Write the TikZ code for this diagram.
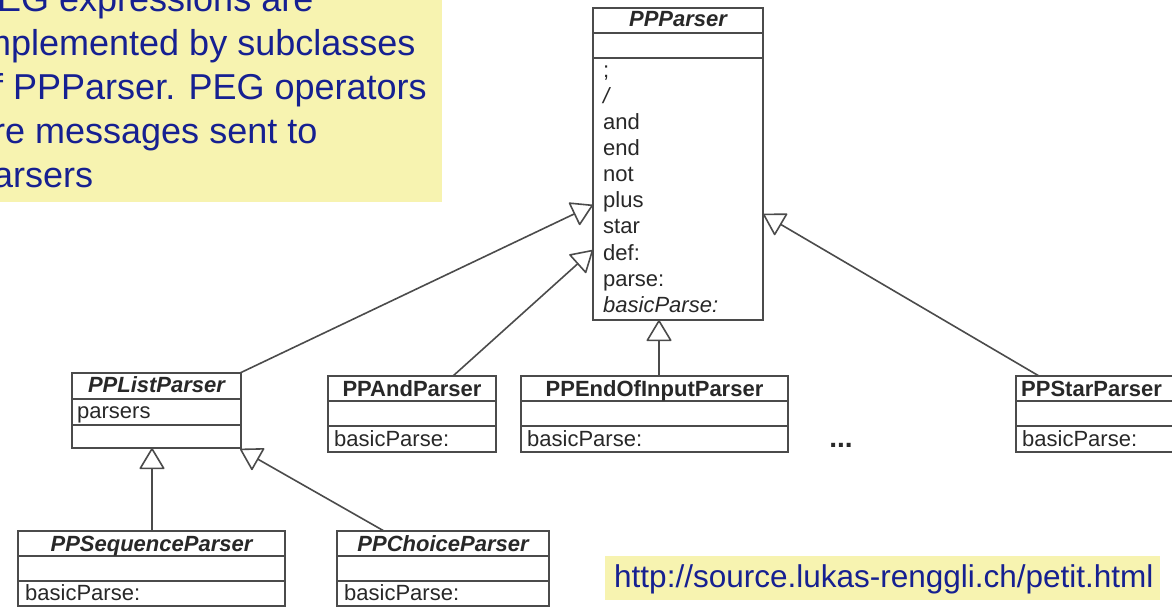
\documentclass[tikz,border=0pt]{standalone}
\usepackage{fontspec}
\setmainfont{Liberation Sans}
\usetikzlibrary{arrows.meta,fit}
\definecolor{noteyellow}{RGB}{247,243,176}
\definecolor{notetext}{RGB}{22,32,145}
\definecolor{umlline}{RGB}{75,75,75}
\definecolor{umltext}{RGB}{40,40,40}
\newcommand{\classbox}[7]{%
  \node[classframe, fit={(#2,#4) (#3,#7)}] (#1) {};
  \draw[classline] (#2,#5) -- (#3,#5);
  \draw[classline] (#2,#6) -- (#3,#6);
}
\begin{document}
\begin{tikzpicture}[x=1pt, y=-1pt,
  classframe/.style={draw=umlline, line width=1.8pt, inner sep=0pt, fill=white},
  classline/.style={draw=umlline, line width=1.8pt},
  umlfont/.style={font=\fontsize{22}{26}\selectfont, text=umltext, inner sep=0pt},
  classtitle/.style={umlfont, font=\fontsize{22}{26}\selectfont\bfseries, anchor=base},
  abstitle/.style={umlfont, font=\fontsize{22}{26}\selectfont\bfseries\itshape, anchor=base},
  member/.style={umlfont, anchor=base west},
  notebox/.style={fill=noteyellow, inner sep=0pt, draw=none},
  notefont/.style={font=\fontsize{36}{44}\selectfont, text=notetext, inner sep=0pt, anchor=base west},
  urlfont/.style={font=\fontsize{31.5}{36}\selectfont, text=notetext, inner sep=0pt, anchor=base west},
  gen/.style={draw=umlline, line width=1.6pt, line join=round,
    -{Triangle[open, length=22pt, width=26pt, line width=1.6pt, round]}}
]
\useasboundingbox (0,0) rectangle (1172,609);
\clip (0,0) rectangle (1172,609);

% note
\node[notebox, fit={(-40,-20) (442,202)}] (note) {};
\node[notefont] (note1) at (-27,12) {PEG expressions are};
\node[notefont] (note2) at (-27,56) {implemented by subclasses};
\node[notefont] (note3) at (-27,100) {of PPParser. PEG operators};
\node[notefont] (note4) at (-27,144) {are messages sent to};
\node[notefont] (note5) at (-27,188) {parsers};

% url
\node[notebox, fit={(605,556) (1160,600)}] (urlbox) {};
\node[urlfont] (url) at (614,587) {http://source.lukas-renggli.ch/petit.html};

% PPParser
\classbox{pp}{593}{763}{8}{33}{58}{320}
\node[abstitle] (pp-t) at (678,27) {PPParser};
\node[member] (pp-m1) at (603,78) {;};
\node[member] (pp-m2) at (603,104) {\itshape /};
\node[member] (pp-m3) at (603,130) {and};
\node[member] (pp-m4) at (603,156) {end};
\node[member] (pp-m5) at (603,182) {not};
\node[member] (pp-m6) at (603,208) {plus};
\node[member] (pp-m7) at (603,234) {star};
\node[member] (pp-m8) at (603,261) {def:};
\node[member] (pp-m9) at (603,287) {parse:};
\node[member] (pp-m10) at (603,313) {\itshape basicParse:};

% PPListParser
\classbox{lp}{72}{241}{373}{399}{425}{448}
\node[abstitle] (lp-t) at (156.5,392) {PPListParser};
\node[member] (lp-a) at (77,418) {parsers};

% PPAndParser
\classbox{andp}{328}{496}{376}{401}{426}{452}
\node[classtitle] (andp-t) at (412,396) {PPAndParser};
\node[member] (andp-m) at (334,446) {basicParse:};

% PPEndOfInputParser
\classbox{eoi}{521}{788}{376}{401}{426}{452}
\node[classtitle] (eoi-t) at (654.5,396) {PPEndOfInputParser};
\node[member] (eoi-m) at (527,446) {basicParse:};

% dots
\node[umlfont, font=\fontsize{28}{30}\selectfont\bfseries, anchor=base] (dots) at (841,447) {...};

% PPStarParser
\classbox{star}{1016}{1190}{376}{401}{426}{452}
\node[classtitle, anchor=base west] (star-t) at (1021,396) {PPStarParser};
\node[member] (star-m) at (1022,446) {basicParse:};

% PPSequenceParser
\classbox{seq}{18}{285}{531}{556}{581}{606}
\node[abstitle] (seq-t) at (151.5,551) {PPSequenceParser};
\node[member] (seq-m) at (25,600) {basicParse:};

% PPChoiceParser
\classbox{cho}{337}{549}{531}{556}{581}{606}
\node[abstitle] (cho-t) at (443,551) {PPChoiceParser};
\node[member] (cho-m) at (344,600) {basicParse:};

% attachment points
\coordinate (lp-top) at (240,373);
\coordinate (pp-l1) at (593,205);
\coordinate (andp-top) at (453,376);
\coordinate (pp-l2) at (593,250);
\coordinate (eoi-top) at (659,376);
\coordinate (pp-b) at (659,320);
\coordinate (star-top) at (1039,376);
\coordinate (pp-r) at (763,214);
\coordinate (seq-top) at (152,531);
\coordinate (lp-b1) at (152,448);
\coordinate (cho-top) at (384,531);
\coordinate (lp-b2) at (240,449);

\draw[gen] (lp-top) -- (pp-l1);
\draw[gen] (andp-top) -- (pp-l2);
\draw[gen] (eoi-top) -- (pp-b);
\draw[gen] (star-top) -- (pp-r);
\draw[gen] (seq-top) -- (lp-b1);
\draw[gen] (cho-top) -- (lp-b2);
\end{tikzpicture}
\end{document}
